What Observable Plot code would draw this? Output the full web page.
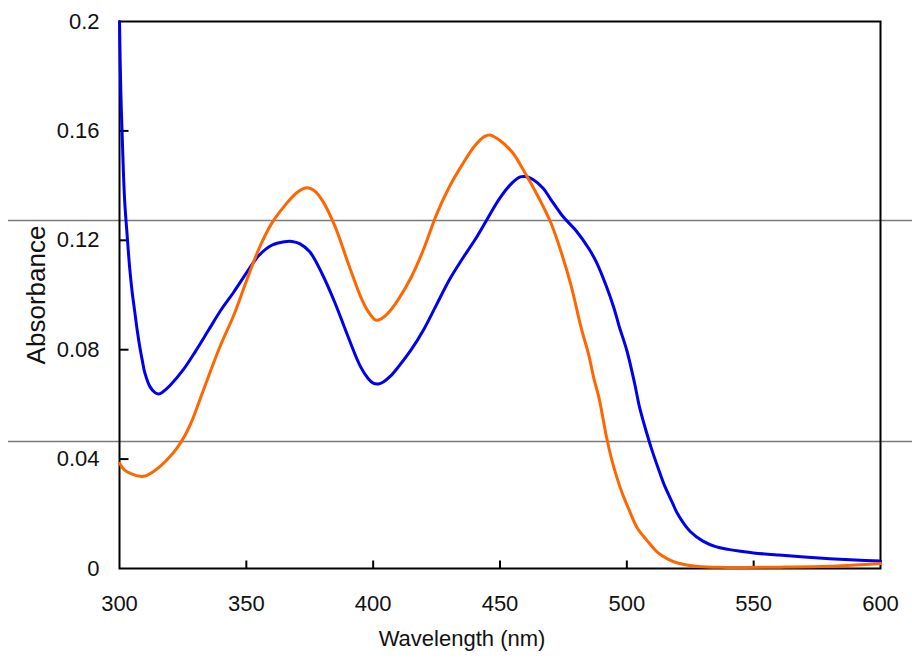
<!DOCTYPE html>
<html>
<head>
<meta charset="utf-8">
<script src="https://cdn.jsdelivr.net/npm/d3@7"></script>
<script src="https://cdn.jsdelivr.net/npm/@observablehq/plot@0.6"></script>
<style>
  body { margin: 0; background: #fff; }
</style>
</head>
<body>
<div id="chart"></div>
<script>
// ---- data ----
const blueWl  = [300, 300.5, 301, 302, 303, 304, 305, 306, 307, 308, 309, 310, 312, 314, 315.5, 317, 320, 325, 330, 335, 340, 345, 350, 355, 360, 365, 368, 371, 375, 380, 385, 390, 395, 398, 400, 402, 404, 407, 410, 415, 420, 425, 430, 435, 440, 445, 450, 455, 458, 460, 463, 467, 470, 475, 480, 485, 488, 492, 495, 497, 500, 503, 505, 508, 510, 513, 515, 518, 520, 525, 530, 535, 540, 545, 550, 560, 570, 580, 590, 600];
const blueAbs = [0.200, 0.175, 0.160, 0.135, 0.122, 0.110, 0.101, 0.094, 0.087, 0.081, 0.076, 0.0715, 0.0665, 0.0643, 0.0638, 0.0645, 0.067, 0.0725, 0.0795, 0.087, 0.0945, 0.101, 0.108, 0.1145, 0.1182, 0.1195, 0.1196, 0.1188, 0.1158, 0.1075, 0.097, 0.085, 0.0738, 0.0695, 0.0678, 0.0675, 0.0682, 0.0705, 0.0738, 0.080, 0.0875, 0.0965, 0.1055, 0.113, 0.120, 0.1278, 0.1355, 0.1412, 0.1432, 0.1433, 0.1422, 0.139, 0.135, 0.1285, 0.1235, 0.117, 0.112, 0.103, 0.095, 0.0885, 0.0797, 0.068, 0.059, 0.049, 0.043, 0.035, 0.030, 0.024, 0.020, 0.0135, 0.010, 0.008, 0.007, 0.0063, 0.0057, 0.0049, 0.0042, 0.0036, 0.0031, 0.0027];

const orangeWl  = [300, 302, 305, 308, 310, 313, 316, 320, 323, 326, 329, 332, 336, 340, 345, 350, 355, 360, 365, 370, 374, 377, 380, 385, 390, 395, 398, 401, 403, 406, 410, 415, 420, 425, 430, 435, 440, 444, 446, 450, 455, 460, 465, 470, 474, 478, 482, 485, 487, 489, 492, 494, 496, 498, 501, 504, 508, 512, 516, 520, 528, 540, 560, 580, 590, 600];
const orangeAbs = [0.0385, 0.036, 0.0345, 0.0337, 0.0338, 0.0352, 0.0373, 0.041, 0.0445, 0.049, 0.055, 0.0625, 0.0725, 0.082, 0.0925, 0.105, 0.117, 0.1262, 0.1325, 0.1375, 0.1392, 0.138, 0.1345, 0.125, 0.112, 0.0995, 0.094, 0.0908, 0.0912, 0.0935, 0.0985, 0.1065, 0.117, 0.1295, 0.1395, 0.1475, 0.1545, 0.158, 0.1585, 0.1565, 0.152, 0.1444, 0.136, 0.1265, 0.116, 0.1035, 0.088, 0.078, 0.0695, 0.0625, 0.048, 0.040, 0.0335, 0.028, 0.0212, 0.015, 0.0102, 0.006, 0.0035, 0.002, 0.0007, 0.0004, 0.0005, 0.0008, 0.0013, 0.0018];

const refLines = [0.1272, 0.0464];

const xTicks = [300, 350, 400, 450, 500, 550, 600];
const xInnerTicks = [350, 400, 450, 500, 550];
const yTicks = [0, 0.04, 0.08, 0.12, 0.16, 0.2];
const yTickLabels = ["0", "0.04", "0.08", "0.12", "0.16", "0.2"];
const yInnerTicks = [0.04, 0.08, 0.12, 0.16];
const xTitle = "Wavelength (nm)";
const yTitle = "Absorbance";

// ---- build ----
const blue = blueWl.map((w, i) => ({wl: w, abs: blueAbs[i]}));
const orange = orangeWl.map((w, i) => ({wl: w, abs: orangeAbs[i]}));
const yLabelMap = new Map(yTicks.map((t, i) => [t, yTickLabels[i]]));
// custom symbols: short inward tick strokes
const tickUp = {draw(context) { context.moveTo(0, 0); context.lineTo(0, -8); }};
const tickRight = {draw(context) { context.moveTo(0, 0); context.lineTo(9, 0); }};

const chart = Plot.plot({
  width: 912,
  height: 658,
  marginLeft: 119,
  marginRight: 32,
  marginTop: 21,
  marginBottom: 90,
  style: {fontFamily: "'Liberation Sans', Arial, sans-serif", fontSize: "22px", background: "white", color: "#111"},
  x: {domain: [300, 600]},
  y: {domain: [0, 0.2]},
  marks: [
    Plot.ruleY(refLines, {stroke: "#7a7a7a", strokeWidth: 1.5, insetLeft: -111, insetRight: -32}),
    Plot.axisX(xTicks, {tickSize: 0, tickPadding: 27, tickFormat: d => String(d), label: null, fontSize: 22}),
    Plot.axisY(yTicks, {tickSize: 0, tickPadding: 20, tickFormat: d => yLabelMap.get(d), label: null, fontSize: 22}),
    Plot.dot(xInnerTicks, {x: d => d, frameAnchor: "bottom", symbol: tickUp, r: 4, fill: "none", stroke: "black", strokeWidth: 2}),
    Plot.dot(yInnerTicks, {y: d => d, frameAnchor: "left", symbol: tickRight, r: 4, fill: "none", stroke: "black", strokeWidth: 2}),
    Plot.frame({stroke: "black", strokeWidth: 2}),
    Plot.line(blue, {x: "wl", y: "abs", stroke: "#0000ee", strokeWidth: 3, curve: "catmull-rom"}),
    Plot.line(orange, {x: "wl", y: "abs", stroke: "#ff6600", strokeWidth: 3, curve: "catmull-rom"}),
    Plot.text([xTitle], {text: d => d, frameAnchor: "bottom", dy: 77, dx: -38, fontSize: 22}),
    Plot.text([yTitle], {text: d => d, frameAnchor: "left", dx: -83, rotate: -90, textAnchor: "middle", fontSize: 26})
  ]
});
document.getElementById("chart").appendChild(chart);
</script>
</body>
</html>
